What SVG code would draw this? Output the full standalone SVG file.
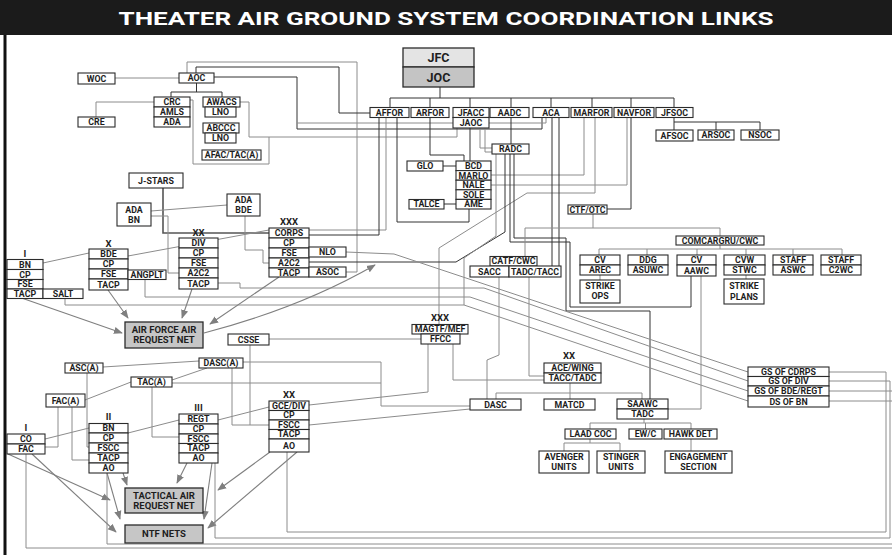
<svg xmlns="http://www.w3.org/2000/svg" width="892" height="555" viewBox="0 0 892 555">
<defs>
<style>
.b{fill:#fff;stroke:#2b2b2b;stroke-width:1.1}
.n{fill:#c6c6c6;stroke:#2b2b2b;stroke-width:1.3}
text{font-family:Roboto,"Liberation Sans",Arial,sans-serif;font-weight:700;font-size:8.8px;fill:#1e1e1e;text-anchor:middle}
.lg{font-size:9.5px}
.big{font-size:12.5px}
.g{fill:none;stroke:#8c8c8c;stroke-width:1}
.k{fill:none;stroke:#333;stroke-width:1}
.kk{fill:none;stroke:#555;stroke-width:1.6}
.a{fill:none;stroke:#7f7f7f;stroke-width:1.1;marker-end:url(#ah)}
</style>
<marker id="ah" viewBox="0 0 10 10" refX="9" refY="5" markerWidth="9" markerHeight="9" orient="auto" markerUnits="userSpaceOnUse"><path d="M0,1 L10,5 L0,9 z" fill="#7f7f7f"/></marker>
</defs>
<rect x="0" y="0" width="892" height="555" fill="#fff"/>
<rect x="0" y="0" width="892" height="35" fill="#1b1b1b"/>
<text x="446" y="24.5" style="font-size:19px;fill:#fff" textLength="655" lengthAdjust="spacingAndGlyphs">THEATER AIR GROUND SYSTEM COORDINATION LINKS</text>
<line x1="5" y1="35" x2="5" y2="555" stroke="#111" stroke-width="3"/>

<g id="connectors">
<polyline class="g" points="115,78 179,78"/>
<polyline class="k" points="196.5,83 196.5,92"/>
<polyline class="k" points="171,97 171,92 222,92 222,97"/>
<polyline class="g" points="96,117 96,102 154,102"/>
<polyline class="g" points="190,100 193,100 193,164 269,164 269,137"/>
<polyline class="g" points="240,102 249,102 249,137 457,137 457,128"/>
<polyline class="k" points="214,77 297,77 297,129 542,129 542,117.5"/>
<polyline class="g" points="297,123 546,123 546,117.5"/>
<polyline class="g" points="187,73 187,62 357,62 357,272 346,272"/>
<polyline class="k" points="196,73 196,67 339,67 339,113 370,113"/>
<polyline class="k" points="440,87 440,98"/>
<polyline class="k" points="390,107.5 390,98 674,98 674,107.5"/>
<line class="k" x1="430" y1="98" x2="430" y2="107.5"/>
<line class="k" x1="470" y1="98" x2="470" y2="107.5"/>
<line class="k" x1="511" y1="98" x2="511" y2="107.5"/>
<line class="k" x1="551" y1="98" x2="551" y2="107.5"/>
<line class="k" x1="592" y1="98" x2="592" y2="107.5"/>
<line class="k" x1="631" y1="98" x2="631" y2="107.5"/>
<polyline class="k" points="674,117.5 674,122"/>
<polyline class="k" points="674,130 674,122 760,122 760,130"/>
<line class="k" x1="716" y1="122" x2="716" y2="130"/>
<polyline class="k" points="430,117.5 430,155 464,155 464,161"/>
<polyline class="k" points="470,128 470,161"/>
<polyline class="k" points="511,117.5 511,144"/>
<polyline class="g" points="480,128 480,148 492,148"/>
<polyline class="g" points="485,128 485,152 492,152"/>
<polyline class="k" points="443,166 456,166"/>
<polyline class="k" points="444,204 456,204"/>
<polyline class="k" points="397,117.5 397,222 469,222 469,209"/>
<polyline class="g" points="386,117.5 386,230 309,230"/>
<polyline class="k" points="379,117.5 379,235 309,235"/>
<polyline class="g" points="584,117.5 584,175 491,175"/>
<polyline class="g" points="627,117.5 627,185 491,185"/>
<polyline class="g" points="595,117.5 595,193 527,193 439,248 439,324.5"/>
<polyline class="k" points="631,117.5 631,209 607,209"/>
<polyline class="k" points="505,154 505,232 456,262 309,262"/>
<polyline class="g" points="496,154 496,236 464,258 464,305"/>
<polyline class="k" points="510,154 510,242 570,242 570,307 691,307 691,276"/>
<polyline class="k" points="514,154 514,238 566,238 566,311 650,311 650,399"/>
<polyline class="k" points="552,117.5 552,266"/>
<polyline class="k" points="559,117.5 559,266"/>
<polyline class="g" points="593,214 593,228"/>
<polyline class="g" points="525,256.5 525,228 720,228 720,236"/>
<polyline class="g" points="720,245 720,249"/>
<polyline class="g" points="599,255 599,249 842,249 842,255"/>
<line class="g" x1="647" y1="249" x2="647" y2="255"/>
<line class="g" x1="697" y1="249" x2="697" y2="255"/>
<line class="g" x1="746" y1="249" x2="746" y2="255"/>
<line class="g" x1="793" y1="249" x2="793" y2="255"/>
<line class="g" x1="600" y1="275" x2="600" y2="280"/>
<line class="g" x1="746" y1="275" x2="746" y2="279"/>
<polyline class="g" points="701,276 701,409 668,409"/>
<polyline class="g" points="529,277 529,376 544,376"/>
<polyline class="g" points="499,277 499,355 487,360 487,399"/>
<polyline class="kk" points="163,188 163,233 269,233"/>
<polyline class="g" points="151,211 227,205"/>
<polyline class="g" points="151,216 168,216 168,273 179,273"/>
<polyline class="g" points="245,216 245,250 263,250 263,263 269,263"/>
<polyline class="g" points="43,263 89,253"/>
<polyline class="g" points="128,256 269,230"/>
<polyline class="g" points="346,252 394,254 748,372"/>
<polyline class="g" points="218,283 240,283 240,288 484,288 748,381"/>
<polyline class="g" points="145,279.5 145,297 470,297 748,391"/>
<polyline class="g" points="65,298.5 65,305 464,305 748,401"/>
<line class="a" x1="23" y1="298.5" x2="122" y2="333"/>
<line class="a" x1="108" y1="290" x2="128" y2="318"/>
<line class="a" x1="192" y1="289" x2="182" y2="318"/>
<line class="a" x1="279" y1="277" x2="210" y2="324"/>
<path class="a" d="M204,333 Q300,308 375,265"/>
<polyline class="g" points="269,339 421,339"/>
<polyline class="g" points="250,345 250,425"/>
<polyline class="g" points="232,368 232,425 269,425"/>
<polyline class="g" points="243,362 381,362 381,406 470,406"/>
<polyline class="g" points="172,383 381,383"/>
<polyline class="g" points="172,380 207,368"/>
<polyline class="g" points="103,367 199,361"/>
<polyline class="g" points="85,400 131,382"/>
<polyline class="g" points="152,387 152,437 179,437"/>
<polyline class="g" points="58,407 58,447 45,447"/>
<polyline class="g" points="72,407 72,460 89,460"/>
<polyline class="g" points="87,373 87,447 89,447"/>
<polyline class="g" points="45,439 89,428"/>
<polyline class="g" points="128,433 179,420"/>
<polyline class="g" points="218,420 269,407"/>
<polyline class="g" points="428,344 428,392 309,405"/>
<polyline class="g" points="470,409 309,425"/>
<polyline class="g" points="453,344 453,380 544,380"/>
<polyline class="g" points="570,383 570,393"/>
<polyline class="g" points="496,399 496,393 642,393 642,399"/>
<line class="g" x1="570" y1="393" x2="570" y2="399"/>
<polyline class="g" points="644,419 644,423"/>
<polyline class="g" points="590,429 590,423 691,423 691,429"/>
<line class="g" x1="645.5" y1="423" x2="645.5" y2="429"/>
<polyline class="g" points="590,439 590,443"/>
<polyline class="g" points="564,451 564,443 620,443 620,451"/>
<line class="g" x1="691" y1="439" x2="691" y2="451"/>
<line class="a" x1="8" y1="454" x2="110" y2="500"/>
<line class="a" x1="32" y1="454" x2="116" y2="532"/>
<line class="a" x1="123" y1="473" x2="127" y2="485"/>
<line class="a" x1="107" y1="473" x2="120" y2="519"/>
<line class="a" x1="187" y1="463" x2="177" y2="483"/>
<line class="a" x1="212" y1="463" x2="204" y2="519"/>
<line class="a" x1="270" y1="452" x2="218" y2="490"/>
<line class="a" x1="297" y1="452" x2="208" y2="528"/>
<polyline class="g" points="287,452 287,532 886,532 886,372 829,372"/>
<polyline class="g" points="215,463 215,538 890,538 890,381 829,381"/>
<polyline class="g" points="829,391 895,391"/>
<polyline class="g" points="107,473 107,544 895,544"/>
<polyline class="g" points="829,401 895,401"/>
<polyline class="g" points="26,454 26,548 895,548"/>
</g>

<g id="n-woc"><rect class="b" x="78" y="73" width="37" height="11"/><text x="96.5" y="81.6">WOC</text></g>
<g id="n-aoc"><rect class="b" x="179" y="73" width="35" height="10"/><text x="196.5" y="81.1">AOC</text></g>
<g id="n-cre"><rect class="b" x="78" y="117" width="37" height="10"/><text x="96.5" y="125.1">CRE</text></g>
<g id="n-crc"><rect class="b" x="154" y="97" width="36" height="10"/><text x="172" y="105.1">CRC</text><rect class="b" x="154" y="107" width="36" height="10"/><text x="172" y="115.1">AMLS</text><rect class="b" x="154" y="117" width="36" height="10"/><text x="172" y="125.1">ADA</text></g>
<g id="n-awacs"><rect class="b" x="203" y="97" width="37" height="10"/><text x="221.5" y="105.1">AWACS</text><rect class="b" x="205" y="107" width="31" height="10"/><text x="220.5" y="115.1">LNO</text></g>
<g id="n-abccc"><rect class="b" x="203" y="123" width="36" height="10"/><text x="221" y="131.1">ABCCC</text><rect class="b" x="205" y="133" width="31" height="10"/><text x="220.5" y="141.1">LNO</text></g>
<g id="n-afac"><rect class="b" x="202" y="150" width="59" height="10"/><text x="231.5" y="158.1">AFAC/TAC(A)</text></g>
<g id="n-jfc"><rect x="403" y="48" width="71" height="19" fill="#e4e4e4" stroke="#2b2b2b" stroke-width="1.3"/><text class="big" x="438.5" y="62">JFC</text><rect x="403" y="67" width="71" height="20" fill="#c4c4c4" stroke="#2b2b2b" stroke-width="1.3"/><text class="big" x="438.5" y="81.5">JOC</text></g>
<g id="n-affor"><rect class="b" x="370" y="107.5" width="39" height="10"/><text x="389.5" y="115.6">AFFOR</text></g>
<g id="n-arfor"><rect class="b" x="411" y="107.5" width="38" height="10"/><text x="430" y="115.6">ARFOR</text></g>
<g id="n-jfacc"><rect class="b" x="453" y="107.5" width="36" height="10"/><text x="471" y="115.6">JFACC</text><rect class="b" x="453" y="117.5" width="36" height="10.5"/><text x="471" y="125.9">JAOC</text></g>
<g id="n-aadc"><rect class="b" x="490" y="107.5" width="39" height="10"/><text x="509.5" y="115.6">AADC</text></g>
<g id="n-aca"><rect class="b" x="533" y="107.5" width="36" height="10"/><text x="551" y="115.6">ACA</text></g>
<g id="n-marfor"><rect class="b" x="571" y="107.5" width="41" height="10"/><text x="591.5" y="115.6">MARFOR</text></g>
<g id="n-navfor"><rect class="b" x="614" y="107.5" width="40" height="10"/><text x="634" y="115.6">NAVFOR</text></g>
<g id="n-jfsoc"><rect class="b" x="656" y="107.5" width="37" height="10"/><text x="674.5" y="115.6">JFSOC</text></g>
<g id="n-afsoc"><rect class="b" x="656" y="130" width="37" height="11"/><text x="674.5" y="138.6">AFSOC</text></g>
<g id="n-arsoc"><rect class="b" x="698" y="130" width="36" height="10"/><text x="716" y="138.1">ARSOC</text></g>
<g id="n-nsoc"><rect class="b" x="741" y="130" width="38" height="10"/><text x="760" y="138.1">NSOC</text></g>
<g id="n-radc"><rect class="b" x="492" y="144" width="37" height="10"/><text x="510.5" y="152.1">RADC</text></g>
<g id="n-glo"><rect class="b" x="407" y="161" width="36" height="10"/><text x="425" y="169.1">GLO</text></g>
<g id="n-bcd"><rect class="b" x="456" y="161" width="35" height="9.6"/><text x="473.5" y="168.9">BCD</text><rect class="b" x="456" y="170.6" width="35" height="9.6"/><text x="473.5" y="178.5">MARLO</text><rect class="b" x="456" y="180.2" width="35" height="9.6"/><text x="473.5" y="188.1">NALE</text><rect class="b" x="456" y="189.8" width="35" height="9.6"/><text x="473.5" y="197.7">SOLE</text><rect class="b" x="456" y="199.4" width="35" height="9.6"/><text x="473.5" y="207.3">AME</text></g>
<g id="n-talce"><rect class="b" x="409" y="199.5" width="35" height="9.5"/><text x="426.5" y="207.35">TALCE</text></g>
<g id="n-jstars"><rect class="b" x="129" y="173" width="54" height="15"/><text x="156" y="183.6">J-STARS</text></g>
<g id="n-adabn"><rect class="b" x="117" y="203" width="34" height="23"/><text x="134" y="212.5">ADA</text><text x="134" y="222.5">BN</text></g>
<g id="n-adabde"><rect class="b" x="227" y="194" width="33" height="22"/><text x="243.5" y="203">ADA</text><text x="243.5" y="213">BDE</text></g>
<g id="n-corps"><text class="lg" x="289" y="225">XXX</text><rect class="b" x="269" y="228" width="40" height="10"/><text x="289" y="236.1">CORPS</text><rect class="b" x="269" y="238" width="40" height="10"/><text x="289" y="246.1">CP</text><rect class="b" x="269" y="248" width="40" height="10"/><text x="289" y="256.1">FSE</text><rect class="b" x="269" y="258" width="40" height="10"/><text x="289" y="266.1">A2C2</text><rect class="b" x="269" y="268" width="40" height="9"/><text x="289" y="275.6">TACP</text></g>
<g id="n-nlo"><rect class="b" x="309" y="247" width="37" height="10"/><text x="327.5" y="255.1">NLO</text></g>
<g id="n-asoc"><rect class="b" x="309" y="267" width="37" height="10"/><text x="327.5" y="275.1">ASOC</text></g>
<g id="n-div"><text class="lg" x="198.5" y="235.5">XX</text><rect class="b" x="179" y="238" width="39" height="10"/><text x="198.5" y="246.1">DIV</text><rect class="b" x="179" y="248" width="39" height="10"/><text x="198.5" y="256.1">CP</text><rect class="b" x="179" y="258" width="39" height="10"/><text x="198.5" y="266.1">FSE</text><rect class="b" x="179" y="268" width="39" height="10"/><text x="198.5" y="276.1">A2C2</text><rect class="b" x="179" y="278" width="39" height="11"/><text x="198.5" y="286.6">TACP</text></g>
<g id="n-bde"><text class="lg" x="108.5" y="246.5">X</text><rect class="b" x="89" y="249" width="39" height="10"/><text x="108.5" y="257.1">BDE</text><rect class="b" x="89" y="259" width="39" height="10"/><text x="108.5" y="267.1">CP</text><rect class="b" x="89" y="269" width="39" height="10"/><text x="108.5" y="277.1">FSE</text><rect class="b" x="89" y="279" width="39" height="11"/><text x="108.5" y="287.6">TACP</text></g>
<g id="n-angplt"><rect class="b" x="128" y="270" width="38" height="9.5"/><text x="147" y="277.85">ANGPLT</text></g>
<g id="n-bn"><text class="lg" x="25" y="256.5">I</text><rect class="b" x="7" y="259.5" width="36" height="10"/><text x="25" y="267.6">BN</text><rect class="b" x="7" y="269.5" width="36" height="10"/><text x="25" y="277.6">CP</text><rect class="b" x="7" y="279.5" width="36" height="9.5"/><text x="25" y="287.35">FSE</text><rect class="b" x="7" y="289" width="36" height="9.5"/><text x="25" y="296.85">TACP</text></g>
<g id="n-salt"><rect class="b" x="43" y="289" width="40" height="9.5"/><text x="63" y="296.85">SALT</text></g>
<g id="n-ctf"><rect class="b" x="568" y="205" width="39" height="9"/><text x="587.5" y="212.6">CTF/OTC</text></g>
<g id="n-comcargru"><rect class="b" x="676" y="236" width="88" height="9"/><text x="720" y="243.6">COMCARGRU/CWC</text></g>
<g id="n-cvarec"><rect class="b" x="580" y="255" width="40" height="10"/><text x="600" y="263.1">CV</text><rect class="b" x="580" y="265" width="40" height="10"/><text x="600" y="273.1">AREC</text></g>
<g id="n-ddg"><rect class="b" x="628" y="255" width="40" height="10"/><text x="648" y="263.1">DDG</text><rect class="b" x="628" y="265" width="40" height="10"/><text x="648" y="273.1">ASUWC</text></g>
<g id="n-cvaawc"><rect class="b" x="677" y="255" width="39" height="10"/><text x="696.5" y="263.1">CV</text><rect class="b" x="677" y="265" width="39" height="11"/><text x="696.5" y="273.6">AAWC</text></g>
<g id="n-cvw"><rect class="b" x="724" y="255" width="41" height="10"/><text x="744.5" y="263.1">CVW</text><rect class="b" x="724" y="265" width="41" height="10"/><text x="744.5" y="273.1">STWC</text></g>
<g id="n-staffaswc"><rect class="b" x="773" y="255" width="40" height="10"/><text x="793" y="263.1">STAFF</text><rect class="b" x="773" y="265" width="40" height="10"/><text x="793" y="273.1">ASWC</text></g>
<g id="n-staffc2wc"><rect class="b" x="821" y="255" width="40" height="10"/><text x="841" y="263.1">STAFF</text><rect class="b" x="821" y="265" width="40" height="10"/><text x="841" y="273.1">C2WC</text></g>
<g id="n-strikeops"><rect class="b" x="580" y="280" width="40" height="23"/><text x="600" y="289.3">STRIKE</text><text x="600" y="299.3">OPS</text></g>
<g id="n-strikeplans"><rect class="b" x="724" y="279" width="40" height="25"/><text x="744" y="289.3">STRIKE</text><text x="744" y="299.8">PLANS</text></g>
<g id="n-catf"><rect class="b" x="490" y="256.5" width="47" height="9.5"/><text x="513.5" y="264.35">CATF/CWC</text></g>
<g id="n-sacc"><rect class="b" x="470" y="266" width="39" height="11"/><text x="489.5" y="274.6">SACC</text></g>
<g id="n-tadctacc"><rect class="b" x="509" y="266" width="52" height="11"/><text x="535" y="274.6">TADC/TACC</text></g>
<g id="n-afarn"><rect class="n" x="125" y="322" width="78" height="26"/><text class="lg" x="164" y="332.5">AIR FORCE AIR</text><text class="lg" x="164" y="343">REQUEST NET</text></g>
<g id="n-csse"><rect class="b" x="228" y="334" width="41" height="11"/><text x="248.5" y="342.6">CSSE</text></g>
<g id="n-dasca"><rect class="b" x="199" y="358" width="44" height="10"/><text x="221" y="366.1">DASC(A)</text></g>
<g id="n-asca"><rect class="b" x="65" y="363" width="38" height="10"/><text x="84" y="371.1">ASC(A)</text></g>
<g id="n-taca"><rect class="b" x="131" y="377" width="41" height="10"/><text x="151.5" y="385.1">TAC(A)</text></g>
<g id="n-faca"><rect class="b" x="46" y="394" width="39" height="13"/><text x="65.5" y="403.6">FAC(A)</text></g>
<g id="n-regt"><text class="lg" x="198.5" y="410.5">III</text><rect class="b" x="179" y="414" width="39" height="10"/><text x="198.5" y="422.1">REGT</text><rect class="b" x="179" y="424" width="39" height="10"/><text x="198.5" y="432.1">CP</text><rect class="b" x="179" y="434" width="39" height="9.5"/><text x="198.5" y="441.85">FSCC</text><rect class="b" x="179" y="443.5" width="39" height="9.5"/><text x="198.5" y="451.35">TACP</text><rect class="b" x="179" y="453" width="39" height="10"/><text x="198.5" y="461.1">AO</text></g>
<g id="n-bn2"><text class="lg" x="108.5" y="420">II</text><rect class="b" x="89" y="423.5" width="39" height="9.5"/><text x="108.5" y="431.35">BN</text><rect class="b" x="89" y="433" width="39" height="10"/><text x="108.5" y="441.1">CP</text><rect class="b" x="89" y="443" width="39" height="10"/><text x="108.5" y="451.1">FSCC</text><rect class="b" x="89" y="453" width="39" height="10"/><text x="108.5" y="461.1">TACP</text><rect class="b" x="89" y="463" width="39" height="10"/><text x="108.5" y="471.1">AO</text></g>
<g id="n-co"><text class="lg" x="26" y="430.5">I</text><rect class="b" x="7" y="434" width="38" height="10"/><text x="26" y="442.1">CO</text><rect class="b" x="7" y="444" width="38" height="10"/><text x="26" y="452.1">FAC</text></g>
<g id="n-gce"><text class="lg" x="289" y="398">XX</text><rect class="b" x="269" y="401" width="40" height="9.5"/><text x="289" y="408.85">GCE/DIV</text><rect class="b" x="269" y="410.5" width="40" height="9.5"/><text x="289" y="418.35">CP</text><rect class="b" x="269" y="420" width="40" height="9.5"/><text x="289" y="427.85">FSCC</text><rect class="b" x="269" y="429.5" width="40" height="9.5"/><text x="289" y="437.35">TACP</text><rect class="b" x="269" y="439" width="40" height="13"/><text x="289" y="448.6">AO</text></g>
<g id="n-magtf"><text class="lg" x="440" y="321">XXX</text><rect class="b" x="412" y="324.5" width="56" height="9.5"/><text x="440" y="332.35">MAGTF/MEF</text><rect class="b" x="421" y="334" width="39" height="10"/><text x="440.5" y="342.1">FFCC</text></g>
<g id="n-ace"><text class="lg" x="569" y="359">XX</text><rect class="b" x="544" y="363" width="57" height="10"/><text x="572.5" y="371.1">ACE/WING</text><rect class="b" x="544" y="373" width="57" height="10"/><text x="572.5" y="381.1">TACC/TADC</text></g>
<g id="n-dasc"><rect class="b" x="470" y="399" width="51" height="11"/><text x="495.5" y="407.6">DASC</text></g>
<g id="n-matcd"><rect class="b" x="544" y="399" width="51" height="11"/><text x="569.5" y="407.6">MATCD</text></g>
<g id="n-saawc"><rect class="b" x="617" y="399" width="51" height="10"/><text x="642.5" y="407.1">SAAWC</text><rect class="b" x="617" y="409" width="51" height="10"/><text x="642.5" y="417.1">TADC</text></g>
<g id="n-gsof"><rect class="b" x="748" y="367" width="81" height="9.5"/><text x="788.5" y="374.85">GS OF CDRPS</text><rect class="b" x="748" y="376.5" width="81" height="9.5"/><text x="788.5" y="384.35">GS OF DIV</text><rect class="b" x="748" y="386" width="81" height="10"/><text x="788.5" y="394.1">GS OF BDE/REGT</text><rect class="b" x="748" y="396" width="81" height="11"/><text x="788.5" y="404.6">DS OF BN</text></g>
<g id="n-laad"><rect class="b" x="565" y="429" width="51" height="10"/><text x="590.5" y="437.1">LAAD COC</text></g>
<g id="n-ewc"><rect class="b" x="629" y="429" width="33" height="10"/><text x="645.5" y="437.1">EW/C</text></g>
<g id="n-hawk"><rect class="b" x="664" y="429" width="53" height="10"/><text x="690.5" y="437.1">HAWK DET</text></g>
<g id="n-avenger"><rect class="b" x="539" y="451" width="50" height="22"/><text x="564" y="460.3">AVENGER</text><text x="564" y="470.3">UNITS</text></g>
<g id="n-stinger"><rect class="b" x="597" y="451" width="48" height="22"/><text x="621" y="460.3">STINGER</text><text x="621" y="470.3">UNITS</text></g>
<g id="n-engage"><rect class="b" x="665" y="451" width="67" height="22"/><text x="698.5" y="460.3">ENGAGEMENT</text><text x="698.5" y="470.3">SECTION</text></g>
<g id="n-tarn"><rect class="n" x="125" y="488" width="78" height="25"/><text class="lg" x="164" y="498.5">TACTICAL AIR</text><text class="lg" x="164" y="509">REQUEST NET</text></g>
<g id="n-ntf"><rect class="n" x="125" y="525" width="78" height="18"/><text class="lg" x="164" y="537.4">NTF NETS</text></g>
</svg>
